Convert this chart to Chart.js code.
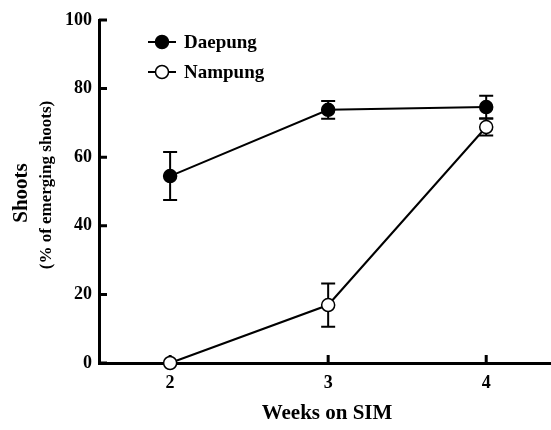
<!DOCTYPE html>
<html>
<head>
<meta charset="utf-8">
<script src="https://cdn.jsdelivr.net/npm/chart.js@4.4.1/dist/chart.umd.min.js"></script>
<style>
  html, body { margin: 0; padding: 0; background: #fff; }
  #wrap { width: 551px; height: 430px; }
</style>
</head>
<body>
<div id="wrap"><canvas id="c" width="551" height="430"></canvas></div>
<script>
/* values */
const weeks       = [2, 3, 4];
const daepung     = [54.5, 73.8, 74.6];
const daepungErr  = [7.0, 2.6, 3.3];
const nampung     = [0, 16.9, 68.8];
const nampungErr  = [0, 6.3, 2.5];
const yTicks      = [0, 20, 40, 60, 80, 100];

const SERIF = '"Liberation Serif", "Times New Roman", serif';

/* inward ticks + error bars under the points; titles and legend on top */
const extras = {
  id: 'extras',
  beforeDatasetsDraw(chart) {
    const { ctx, scales: { x, y }, chartArea: a } = chart;
    ctx.save();
    ctx.strokeStyle = '#000';

    ctx.lineWidth = 3;
    ctx.beginPath();
    yTicks.forEach(v => {
      const py = y.getPixelForValue(v);
      ctx.moveTo(a.left, py); ctx.lineTo(a.left + 8, py);
    });
    weeks.forEach(v => {
      const px = x.getPixelForValue(v);
      ctx.moveTo(px, a.bottom); ctx.lineTo(px, a.bottom - 8);
    });
    ctx.stroke();

    ctx.lineWidth = 2;
    chart.data.datasets.forEach(ds => {
      ds.data.forEach((p, i) => {
        const e = ds.errors[i];
        if (!e) return;
        const px = x.getPixelForValue(p.x);
        const top = y.getPixelForValue(p.y + e);
        const bot = y.getPixelForValue(p.y - e);
        ctx.beginPath();
        ctx.moveTo(px, top); ctx.lineTo(px, bot);
        ctx.moveTo(px - 7, top); ctx.lineTo(px + 7, top);
        ctx.moveTo(px - 7, bot); ctx.lineTo(px + 7, bot);
        ctx.stroke();
      });
    });
    ctx.restore();
  },
  afterDraw(chart) {
    const { ctx } = chart;
    ctx.save();
    ctx.strokeStyle = '#000';

    // axis titles
    ctx.fillStyle = '#000';
    ctx.textAlign = 'center';
    ctx.textBaseline = 'middle';
    ctx.font = 'bold 21px ' + SERIF;
    ctx.fillText('Weeks on SIM', 327, 414);
    ctx.save();
    ctx.translate(22, 193);
    ctx.rotate(-Math.PI / 2);
    ctx.font = 'bold 21px ' + SERIF;
    ctx.fillText('Shoots', 0, 0);
    ctx.restore();
    ctx.save();
    ctx.translate(47, 185);
    ctx.rotate(-Math.PI / 2);
    ctx.font = 'bold 17px ' + SERIF;
    ctx.fillText('(% of emerging shoots)', 0, 0);
    ctx.restore();

    // legend
    ctx.textAlign = 'left';
    ctx.font = 'bold 19px ' + SERIF;
    chart.data.datasets.forEach((ds, i) => {
      const ly = 42 + i * 30;
      ctx.lineWidth = 2;
      ctx.beginPath();
      ctx.moveTo(148, ly); ctx.lineTo(176, ly);
      ctx.stroke();
      ctx.beginPath();
      ctx.arc(162, ly, 6.5, 0, Math.PI * 2);
      ctx.fillStyle = ds.pointBackgroundColor;
      ctx.fill();
      ctx.lineWidth = 1.5;
      ctx.stroke();
      ctx.fillStyle = '#000';
      ctx.fillText(ds.label, 184, ly + 1);
    });
    ctx.restore();
  }
};

const toPoints = vals => vals.map((v, i) => ({ x: weeks[i], y: v }));

new Chart(document.getElementById('c'), {
  type: 'line',
  data: {
    datasets: [
      {
        label: 'Daepung',
        data: toPoints(daepung),
        errors: daepungErr,
        borderColor: '#000',
        borderWidth: 2,
        pointBackgroundColor: '#000',
        pointBorderColor: '#000',
        pointBorderWidth: 1.5,
        pointRadius: 6.5,
        tension: 0,
        clip: false
      },
      {
        label: 'Nampung',
        data: toPoints(nampung),
        errors: nampungErr,
        borderColor: '#000',
        borderWidth: 2,
        pointBackgroundColor: '#fff',
        pointBorderColor: '#000',
        pointBorderWidth: 1.5,
        pointRadius: 6.5,
        tension: 0,
        clip: false
      }
    ]
  },
  options: {
    responsive: false,
    animation: false,
    layout: { autoPadding: false, padding: { top: 20, right: 0, left: 0, bottom: 0 } },
    plugins: { legend: { display: false }, tooltip: { enabled: false } },
    elements: { point: { hoverRadius: 6.5 } },
    scales: {
      x: {
        type: 'linear',
        min: 1.55,
        max: 4.41,
        afterBuildTicks: s => { s.ticks = weeks.map(v => ({ value: v })); },
        afterFit: s => { s.height = 67; s.paddingLeft = 0; s.paddingRight = 0; },
        grid: { display: false, drawTicks: false },
        border: { display: true, color: '#000', width: 3 },
        ticks: {
          color: '#000',
          padding: 10,
          font: { family: SERIF, size: 18, weight: 'bold' }
        }
      },
      y: {
        min: 0,
        max: 100,
        afterBuildTicks: s => { s.ticks = yTicks.map(v => ({ value: v })); },
        afterFit: s => { s.width = 99; },
        grid: { display: false, drawTicks: false },
        border: { display: true, color: '#000', width: 3 },
        ticks: {
          color: '#000',
          padding: 7,
          font: { family: SERIF, size: 18, weight: 'bold' }
        }
      }
    }
  },
  plugins: [extras]
});
</script>
</body>
</html>
